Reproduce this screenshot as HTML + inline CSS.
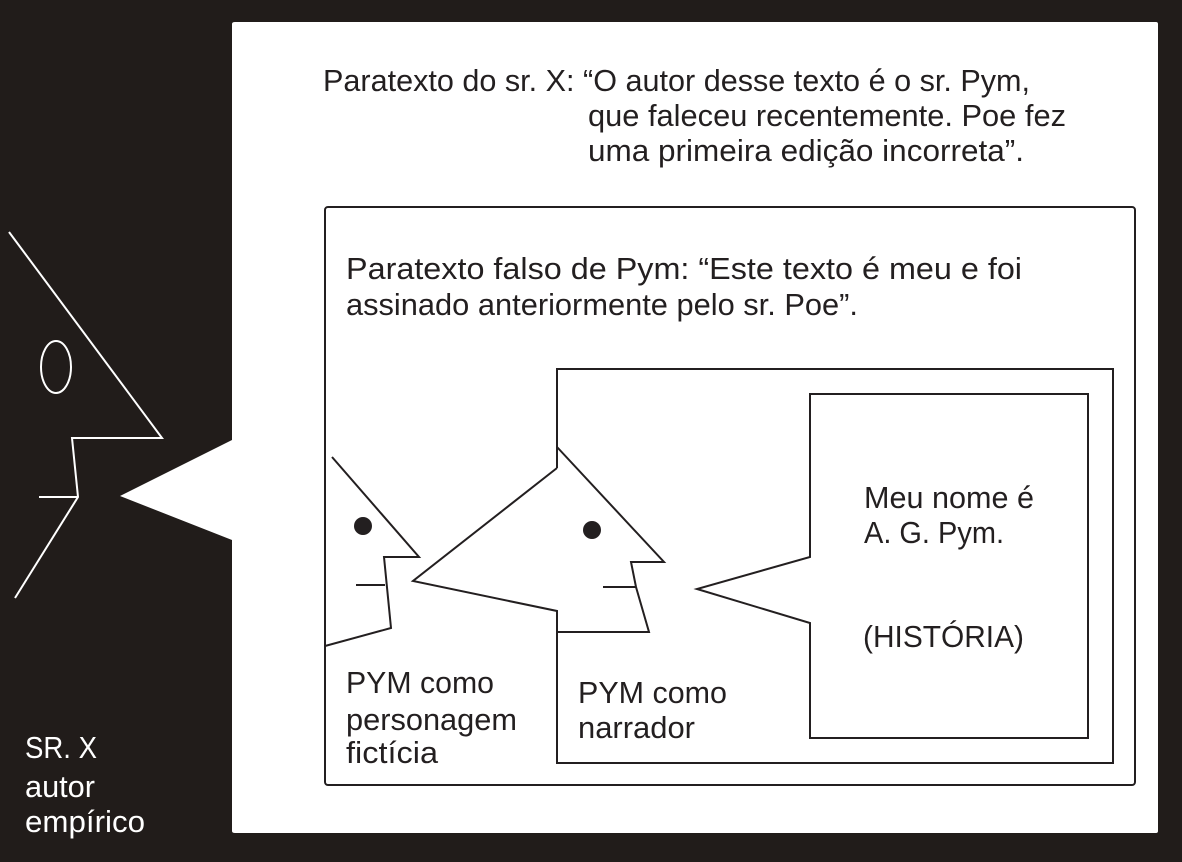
<!DOCTYPE html>
<html><head><meta charset="utf-8"><style>
html,body{margin:0;padding:0;background:#211c1a;}
svg{display:block;}
text{font-family:"Liberation Sans",sans-serif;font-size:31px;fill:#231f20;}
.w{fill:#fff;}
</style></head><body>
<svg width="1182" height="862" viewBox="0 0 1182 862" xmlns="http://www.w3.org/2000/svg">
<rect width="1182" height="862" fill="#211c1a"/>
<path d="M235,22 H1156 Q1158,22 1158,24 V831 Q1158,833 1156,833 H235 Q232,833 232,831 V540 L120,496 L232,440 V24 Q232,22 235,22 Z" fill="#fff"/>
<g fill="none" stroke="#fff" stroke-width="2">
<polyline points="9,232 162,438 72,438 78,497 15,598"/>
<line x1="39" y1="497" x2="78" y2="497"/>
<ellipse cx="56" cy="367" rx="15" ry="26"/>
</g>
<g fill="none" stroke="#231f20" stroke-width="2">
<rect x="325" y="207" width="810" height="578" rx="3"/>
<polyline points="557,468 557,369 1113,369 1113,763 557,763 557,611 413,581 557,468"/>
<polyline points="557,447 664,562 631,562 636,587 649,632 557,632"/>
<line x1="603" y1="587" x2="636" y2="587"/>
<polyline points="332,457 419,557 384,557 391,628 325,646"/>
<line x1="356" y1="585" x2="385" y2="585"/>
<path d="M810,557 V394 H1088 V738 H810 V623 L697,589 Z"/>
</g>
<circle cx="592" cy="530" r="9" fill="#231f20"/>
<circle cx="363" cy="526" r="9" fill="#231f20"/>
<text x="323" y="91" textLength="707" lengthAdjust="spacingAndGlyphs">Paratexto do sr. X:  “O autor desse texto é o sr. Pym,</text>
<text x="588" y="126" textLength="478" lengthAdjust="spacingAndGlyphs">que faleceu recentemente. Poe fez</text>
<text x="588" y="161" textLength="436" lengthAdjust="spacingAndGlyphs">uma primeira edição incorreta”.</text>
<text x="346" y="279" textLength="676" lengthAdjust="spacingAndGlyphs">Paratexto falso de  Pym:  “Este  texto é meu e foi</text>
<text x="346" y="315" textLength="512" lengthAdjust="spacingAndGlyphs">assinado anteriormente pelo sr. Poe”.</text>
<text x="864" y="508" textLength="170" lengthAdjust="spacingAndGlyphs">Meu nome é</text>
<text x="864" y="543" textLength="140" lengthAdjust="spacingAndGlyphs">A. G. Pym.</text>
<text x="863" y="647" textLength="161" lengthAdjust="spacingAndGlyphs">(HISTÓRIA)</text>
<text x="346" y="693" textLength="148" lengthAdjust="spacingAndGlyphs">PYM como</text>
<text x="346" y="730" textLength="171" lengthAdjust="spacingAndGlyphs">personagem</text>
<text x="346" y="763" textLength="92" lengthAdjust="spacingAndGlyphs">fictícia</text>
<text x="578" y="703" textLength="149" lengthAdjust="spacingAndGlyphs">PYM como</text>
<text x="578" y="738" textLength="117" lengthAdjust="spacingAndGlyphs">narrador</text>
<text class="w" x="25" y="758" textLength="72" lengthAdjust="spacingAndGlyphs">SR. X</text>
<text class="w" x="25" y="797" textLength="70" lengthAdjust="spacingAndGlyphs">autor</text>
<text class="w" x="25" y="832" textLength="120" lengthAdjust="spacingAndGlyphs">empírico</text>
</svg>
</body></html>
